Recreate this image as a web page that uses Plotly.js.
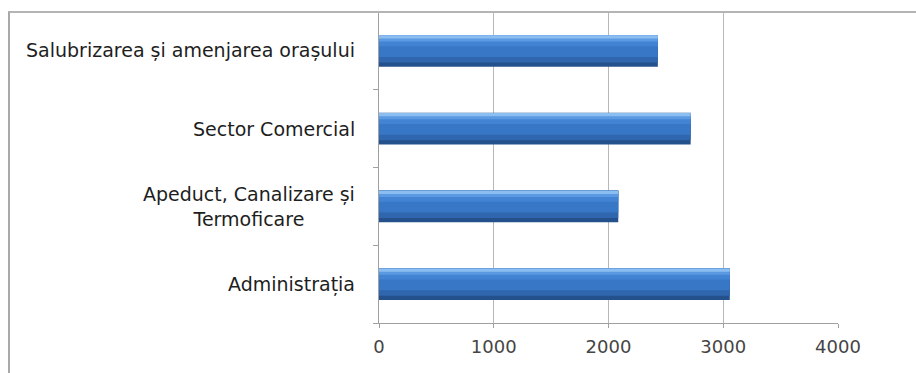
<!DOCTYPE html>
<html>
<head>
<meta charset="utf-8">
<script src="https://cdn.plot.ly/plotly-3.0.1.min.js"></script>
<style>
  html, body { margin: 0; padding: 0; background: #ffffff; }
  #wrap { position: relative; width: 916px; height: 373px; }
  #chart { position: absolute; left: 0; top: 0; width: 916px; height: 373px; }
  #frame {
    position: absolute; left: 8px; top: 11px; right: 0; bottom: 0;
    border-left: 2px solid #a9a9a9; border-top: 2px solid #b4b4b4;
    pointer-events: none;
  }
</style>
</head>
<body>
<div id="wrap">
  <div id="chart"></div>
  <div id="frame"></div>
</div>
<script>
// Departments (bottom to top) and their values
const categories = [
  "Administrația",
  "Apeduct, Canalizare și<br>Termoficare",
  "Sector Comercial",
  "Salubrizarea și amenjarea orașului"
];
const values = [3057, 2085, 2716, 2430];
const xTicks = [0, 1000, 2000, 3000, 4000];

// Stacked shading bands give the bars their rounded, lit look
const bands = [
  { offset: -0.205, width: 0.41,  color: "#24508c" },
  { offset: -0.150, width: 0.350, color: "#2f66ad" },
  { offset: -0.080, width: 0.280, color: "#3877c6" },
  { offset:  0.060, width: 0.140, color: "#4284d3" },
  { offset:  0.120, width: 0.080, color: "#5b9ae2" },
  { offset:  0.160, width: 0.040, color: "#8cbdf0" }
];

const traces = bands.map(b => ({
  type: "bar",
  orientation: "h",
  y: categories,
  x: values,
  offset: b.offset,
  width: b.width,
  marker: { color: b.color, line: { width: 0 } },
  hoverinfo: "x+y",
  showlegend: false
}));

// Category labels as centred text blocks to the left of the axis
const labelAnnotations = categories.map(c => ({
  xref: "paper",
  x: 0,
  xanchor: "right",
  xshift: -22,
  yref: "y",
  y: c,
  yanchor: "middle",
  text: c,
  align: "center",
  showarrow: false,
  font: { family: "DejaVu Sans, sans-serif", size: 19, color: "#1e1e1e" }
}));

const layout = {
  width: 916,
  height: 373,
  margin: { l: 379, r: 78, t: 12, b: 50, pad: 0 },
  paper_bgcolor: "#ffffff",
  plot_bgcolor: "#ffffff",
  barmode: "overlay",
  font: { family: "DejaVu Sans, sans-serif", color: "#262626" },
  annotations: labelAnnotations,
  xaxis: {
    range: [0, 4000],
    tickvals: xTicks,
    ticktext: xTicks.map(String),
    showgrid: true,
    gridcolor: "#b8b8b8",
    gridwidth: 1.2,
    zeroline: false,
    showline: true,
    linecolor: "#a0a0a0",
    linewidth: 1,
    ticks: "outside",
    ticklen: 4,
    tickcolor: "#a0a0a0",
    ticklabelstandoff: 3,
    tickfont: { size: 18, color: "#454545" },
    fixedrange: true
  },
  yaxis: {
    type: "category",
    categoryorder: "array",
    categoryarray: categories,
    range: [-0.5, 3.5],
    showgrid: false,
    zeroline: false,
    showline: true,
    linecolor: "#a0a0a0",
    linewidth: 1,
    ticks: "outside",
    tickson: "boundaries",
    ticklen: 5,
    tickcolor: "#a0a0a0",
    showticklabels: false,
    fixedrange: true
  }
};

Plotly.newPlot("chart", traces, layout, { displayModeBar: false, staticPlot: true });
</script>
</body>
</html>
